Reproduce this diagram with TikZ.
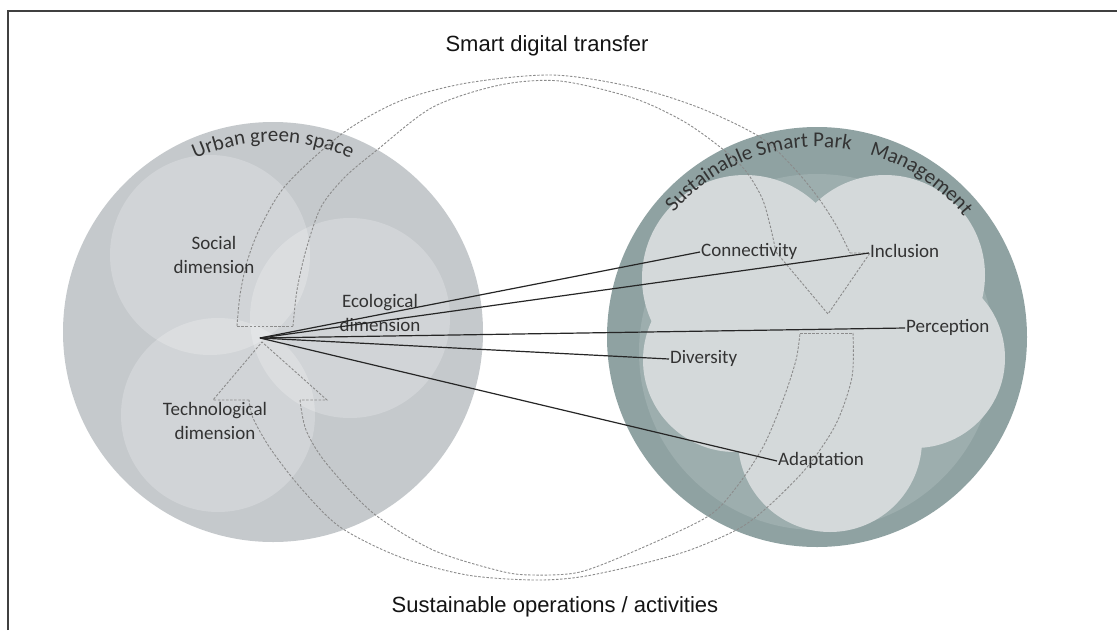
\documentclass[tikz,border=0pt]{standalone}
\usepackage{fontspec}
\setmainfont{Carlito}
\newfontfamily\titlefont{Liberation Sans}
\usetikzlibrary{decorations.text,calc}
\definecolor{ringL}{HTML}{C5C9CC}
\definecolor{ringR}{HTML}{8FA2A2}
\definecolor{ringRin}{HTML}{9DAEAE}
\definecolor{lobeR}{HTML}{D4D9DA}
\definecolor{dashc}{HTML}{8C8C8C}
\definecolor{linec}{HTML}{262626}
\definecolor{txt}{HTML}{333333}
\newcommand\arcfont{\fontsize{21}{21}\selectfont\color{txt}}
\begin{document}
\begin{tikzpicture}[x=1pt,y=-1pt,
  lobeL/.style={fill=white,fill opacity=0.22},
  lobeRs/.style={fill=lobeR},
  dimlabel/.style={font=\fontsize{19}{24}\selectfont, text=txt, align=center},
  leaf/.style={font=\fontsize{19}{23}\selectfont, text=txt, anchor=west, inner sep=1pt, text height=13pt, text depth=4pt},
  flow/.style={draw=dashc, line width=0.9pt, dash pattern=on 2.5pt off 1.6pt},
  spoke/.style={draw=linec, line width=1.2pt},
  title/.style={font=\titlefont\fontsize{22}{26}\selectfont, text=black!92}]

\useasboundingbox (0,0) rectangle (1117,630);
\fill[white] (0,0) rectangle (1117,630);
\draw[line width=1.4pt, black!75] (8,630) -- (8,11) -- (1117,11);

\coordinate (LC) at (273,332);
\coordinate (RC) at (817,337);

% left circle
\fill[ringL] (LC) circle[radius=210];
\fill[lobeL] (210,255) circle[radius=100];
\fill[lobeL] (350,318) circle[radius=100];
\fill[lobeL] (218,415) circle[radius=97];

% right circle
\fill[ringR] (RC) circle[radius=210];
\fill[ringRin] (817,352) circle[radius=178];
\fill[lobeRs] (745,278) circle[radius=103];
\fill[lobeRs] (885,275) circle[radius=100];
\fill[lobeRs] (915,358) circle[radius=90];
\fill[lobeRs] (830,440) circle[radius=92];
\fill[lobeRs] (735,360) circle[radius=92];
\fill[lobeRs] (820,345) circle[radius=100];

% arc texts
\path[decorate, decoration={text along path, text align=center, text={|\arcfont|Urban green space}}]
  ($(LC)+(-150:190)$) arc[start angle=-150, end angle=-30, radius=190];
\path[decorate, decoration={text along path, text={|\arcfont|Sustainable Smart Park}}]
  ($(RC)+(-139:190)$) arc[start angle=-139, end angle=-60, radius=190];
\path[decorate, decoration={text along path, text={|\arcfont|Management}}]
  ($(RC)+(-74:190)$) arc[start angle=-74, end angle=-10, radius=190];

% top dashed arrow (smart digital transfer)
\draw[flow] (293,326) -- (237,326);
\draw[flow] plot[smooth] coordinates {(237,326) (240,295) (247,262) (260,228) (286,185) (343,133) (400,101) (467,83) (553,75) (633,87) (700,108) (760,137) (792,166) (817,196) (836,225) (850,253)};
\draw[flow] (850,253) -- (870,253) -- (828,314) -- (776,252);
\draw[flow] plot[smooth] coordinates {(776,252) (770,225) (762,198) (745,170) (720,147) (683,121) (633,98) (560,81) (500,85) (433,107) (377,150) (345,177) (321,207) (306,250) (297,290) (293,326)};

% bottom dashed arrow (sustainable operations)
\draw[flow] (800,333) -- (853,333);
\draw[flow] plot[smooth] coordinates {(853,333) (852,377) (836,424) (808,466) (772,503) (740,528) (690,550) (637,565) (580,577) (533,580) (467,575) (400,557) (340,527) (300,487) (270,448) (253,418) (249,400)};
\draw[flow] (249,400) -- (213,400) -- (262,342) -- (327,400) -- (300,400);
\draw[flow] plot[smooth] coordinates {(300,400) (306,430) (326,463) (373,513) (433,550) (500,571) (533,575) (580,572) (637,550) (707,517) (735,489) (763,447) (783,400) (796,360) (800,333)};

% labels
\node[dimlabel] (soc) at (214,255) {Social\\dimension};
\node[dimlabel] (eco) at (380,313) {Ecological\\dimension};
\node[dimlabel] (tech) at (215,421) {Technological\\dimension};

\node[leaf] (conn) at (700,252) {Connectivity};
\node[leaf] (incl) at (869,253) {Inclusion};
\node[leaf] (perc) at (905,328) {Perception};
\node[leaf] (div) at (669,359) {Diversity};
\node[leaf] (adap) at (777,461) {Adaptation};

\coordinate (hub) at (260,338);
\foreach \t in {conn,incl,perc,div,adap}
  \draw[spoke] (hub) -- (\t.west);

\node[title] (t1) at (547,46) {Smart digital transfer};
\node[title] (t2) at (555,607) {Sustainable operations / activities};
\end{tikzpicture}
\end{document}
